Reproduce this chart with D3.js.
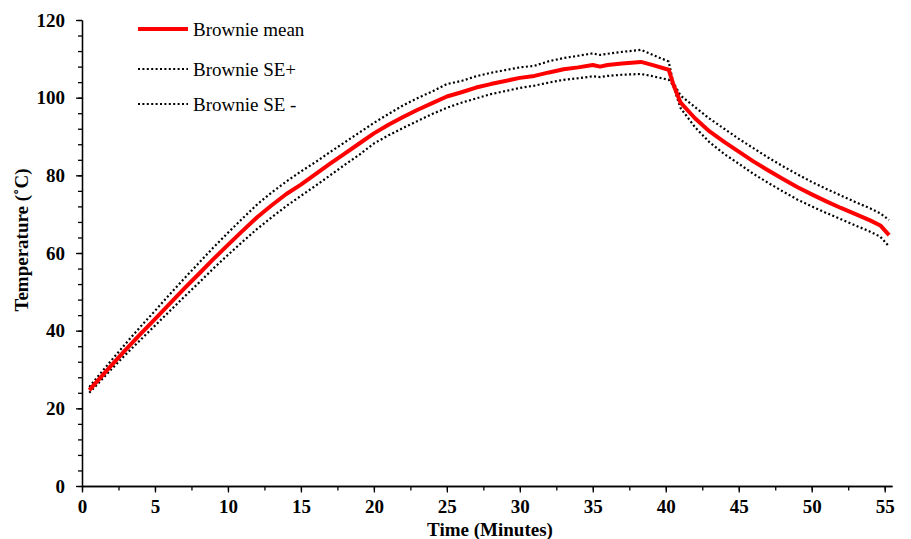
<!DOCTYPE html>
<html>
<head>
<meta charset="utf-8">
<script src="https://cdn.jsdelivr.net/npm/d3@7"></script>
<style>
body{margin:0;background:#fff;}
svg text{font-family:"Liberation Serif","Times New Roman",serif;}
.axis path,.axis line{stroke:#000;stroke-width:1.3;}
.axis text{font-size:19px;font-weight:bold;fill:#000;}
</style>
</head>
<body>
<svg id="chart"></svg>
<script>
// time in minutes
var times=[0.5,1,2,3,4,5,6,7,8,9,10,11,12,13,14,15,16,17,18,19,20,21,22,23,24,25,26,27,28,29,30,31,32,33,34,35,35.5,36,37,38.3,39,40.2,40.5,41,42,43,44,45,46,47,48,49,50,51,52,53,54,54.7,55.3]
var brownieMean=[24.7,26.8,31.0,35.1,39.1,43.0,46.9,50.8,54.6,58.4,62.1,65.7,69.2,72.3,75.2,77.6,80.3,83.0,85.6,88.2,90.8,93.0,95.0,96.9,98.6,100.3,101.4,102.6,103.5,104.3,105.1,105.6,106.5,107.3,107.8,108.4,108.0,108.4,108.8,109.2,108.5,107.2,103.6,98.8,94.7,91.3,88.6,86.1,83.6,81.3,79.1,77.0,75.1,73.3,71.6,70.0,68.4,67.1,64.6]
var brownieSEplus=[25.5,27.8,32.3,36.7,41.0,45.1,49.3,53.4,57.4,61.4,65.2,68.9,72.5,75.6,78.4,81.0,83.4,86.0,88.5,91.0,93.5,95.8,98.0,99.9,101.6,103.5,104.3,105.5,106.4,107.1,107.8,108.2,109.4,110.2,110.8,111.4,111.0,111.3,111.8,112.3,111.2,109.3,104.0,100.6,97.6,94.6,92.0,89.4,87.0,84.6,82.4,80.3,78.3,76.5,74.8,73.1,71.5,70.2,68.5]
var brownieSEminus=[24.0,26.0,30.0,33.9,37.6,41.3,45.0,48.7,52.3,56.0,59.5,62.9,66.2,69.2,72.1,74.7,77.3,80.0,82.7,85.3,88.2,90.3,92.2,94.0,95.8,97.4,98.7,99.8,100.9,101.7,102.5,103.1,103.9,104.6,105.0,105.5,105.3,105.6,105.9,106.1,105.6,104.6,103.2,97.4,92.4,88.5,85.5,83.0,80.4,78.1,75.9,73.8,72.0,70.3,68.7,67.1,65.5,64.2,61.7]

var xTicks=[0,5,10,15,20,25,30,35,40,45,50,55]
var yTicks=[0,20,40,60,80,100,120]
var legendLabels=["Brownie mean","Brownie SE+","Brownie SE -"]

var screen={width:911,height:539}
var margins={top:20,left:82,right:19,bottom:53}
var w=screen.width-margins.left-margins.right
var h=screen.height-margins.top-margins.bottom

var svg=d3.select("#chart")
    .attr("width",screen.width)
    .attr("height",screen.height)

var xScale=d3.scaleLinear()
    .domain([0,55.5])
    .range([margins.left,margins.left+w])
var yScale=d3.scaleLinear()
    .domain([0,120])
    .range([margins.top+h,margins.top])

//minor ticks first
svg.append("g")
    .attr("class","axis")
    .attr("transform","translate(0,"+(margins.top+h)+")")
    .call(d3.axisBottom(xScale).tickValues(d3.range(0,55.1,2.5)).tickSize(4.5).tickFormat("").tickSizeOuter(0))
svg.append("g")
    .attr("class","axis")
    .attr("transform","translate("+margins.left+",0)")
    .call(d3.axisLeft(yScale).tickValues(d3.range(0,121,4)).tickSize(4).tickFormat("").tickSizeOuter(0))

svg.append("g")
    .attr("class","axis")
    .attr("transform","translate(0,"+(margins.top+h)+")")
    .call(d3.axisBottom(xScale).tickValues(xTicks).tickSize(6.5).tickPadding(7).tickSizeOuter(0))
svg.append("g")
    .attr("class","axis")
    .attr("transform","translate("+margins.left+",0)")
    .call(d3.axisLeft(yScale).tickValues(yTicks).tickSize(6).tickPadding(11).tickSizeOuter(0))

svg.append("text")
    .attr("x",490).attr("y",536)
    .attr("text-anchor","middle")
    .style("font-size","19px").style("font-weight","bold")
    .text("Time (Minutes)")
svg.append("text")
    .attr("transform","translate(28,240) rotate(-90)")
    .attr("text-anchor","middle")
    .style("font-size","19px").style("font-weight","bold")
    .text("Temperature (\u02DAC)")

var makeLine=function(vals){
    return d3.line()
        .x(function(d,i){return xScale(times[i])})
        .y(function(d){return yScale(d)})(vals)
}

var dotted="2 2.4"
svg.append("path").attr("d",makeLine(brownieSEplus))
    .attr("fill","none").attr("stroke","#000").attr("stroke-width",2.2).attr("stroke-dasharray",dotted)
svg.append("path").attr("d",makeLine(brownieSEminus))
    .attr("fill","none").attr("stroke","#000").attr("stroke-width",2.2).attr("stroke-dasharray",dotted)
svg.append("path").attr("d",makeLine(brownieMean))
    .attr("fill","none").attr("stroke","#ff0000").attr("stroke-width",4).attr("stroke-linejoin","round")

//legend
var legend=svg.selectAll(".leg")
    .data(legendLabels)
    .enter()
    .append("g")
    .attr("class","leg")
    .attr("transform",function(d,i){return "translate(138,"+[29,69,104][i]+")"})
legend.append("line")
    .attr("x1",0).attr("x2",50)
    .attr("stroke",function(d,i){return i==0?"#ff0000":"#000"})
    .attr("stroke-width",function(d,i){return i==0?4:2.2})
    .attr("stroke-dasharray",function(d,i){return i==0?null:dotted})
legend.append("text")
    .attr("x",55).attr("y",6.5)
    .style("font-size","19px")
    .text(function(d){return d})
</script>
</body>
</html>
